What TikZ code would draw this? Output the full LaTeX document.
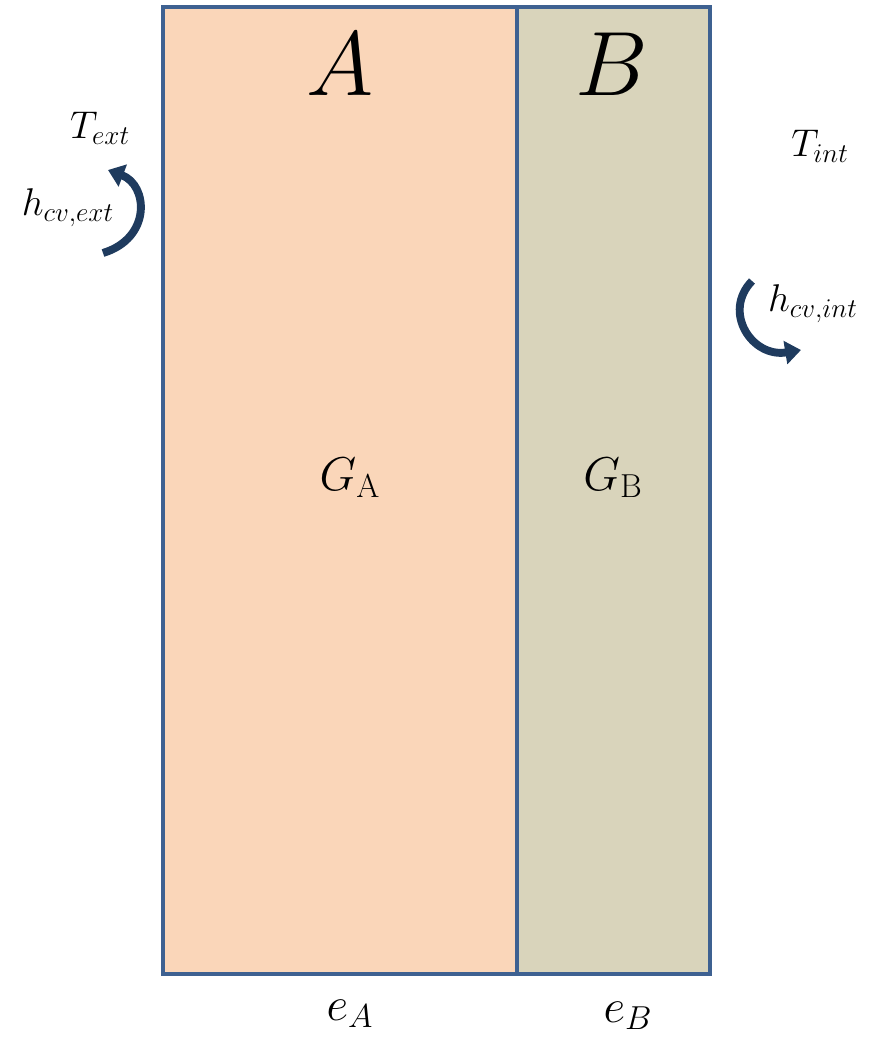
\documentclass[tikz,border=0pt]{standalone}
\usepackage{fix-cm}
\usetikzlibrary{arrows.meta}
\definecolor{wallline}{HTML}{3E6191}
\definecolor{layerA}{HTML}{FAD6B9}
\definecolor{layerB}{HTML}{D9D4BB}
\definecolor{flux}{HTML}{1F3B5E}
\tikzset{
  layer/.style={draw=wallline,line width=2.3pt},
  conv/.style={flux,line width=4.5pt,-{Triangle[length=9pt,width=13pt]}},
  big/.style={font=\fontsize{52}{52}\selectfont},
  mid/.style={font=\fontsize{27}{27}\selectfont},
  small/.style={font=\fontsize{22}{22}\selectfont}
}
\begin{document}
\begin{tikzpicture}[x=0.02cm,y=-0.02cm]
\useasboundingbox (0,0) rectangle (871,1042);
% the two layers of the wall
\draw[layer,fill=layerA] (163,7) rectangle (517,974);
\draw[layer,fill=layerB] (517,7) rectangle (710,974);
\node[big] (labA) at (340,64) {$A$}; \node[big] (labB) at (612,64) {$B$};
\node[mid] (GA) at (350,478) {$G_{\mathrm{A}}$}; \node[mid] (GB) at (613,478) {$G_{\mathrm{B}}$};
\node[mid] (eA) at (350,1014) {$e_A$}; \node[mid] (eB) at (628,1016) {$e_B$};
% ambient sides
\node[small] (Text) at (100,128) {$T_{ext}$};
\node[small] (hext) at (68,208) {$h_{cv,ext}$};
\node[small] (Tint) at (820,146) {$T_{int}$};
\node[small] (hint) at (813,304) {$h_{cv,int}$};
\coordinate (extlo) at (103,253); \coordinate (exthi) at (108,170);
\coordinate (inthi) at (752,281); \coordinate (intlo) at (801,350);
\draw[conv] (extlo) .. controls (152,238) and (148,185) .. (exthi);
\draw[conv] (inthi) .. controls (722,312) and (752,358) .. (intlo);
\end{tikzpicture}
\end{document}
